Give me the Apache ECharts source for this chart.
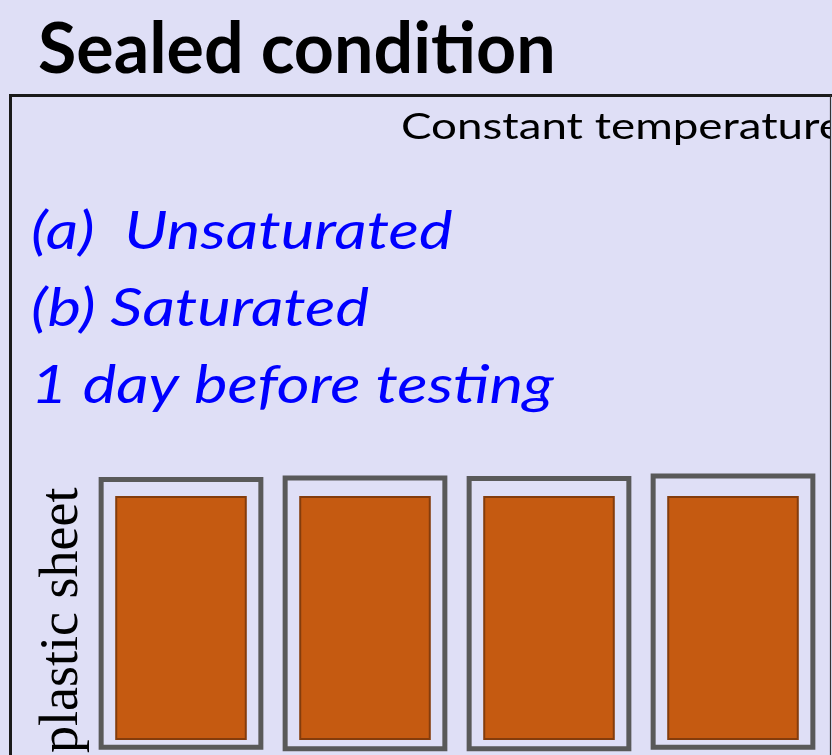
<!DOCTYPE html>
<html>
<head>
<meta charset="utf-8">
<title>Sealed condition</title>
<script src="https://cdn.jsdelivr.net/npm/echarts@6/dist/echarts.min.js"></script>
<style>
  html, body { margin: 0; padding: 0; background: #dfdff6; }
  #chart { width: 832px; height: 755px; }
</style>
</head>
<body>
<div id="chart"></div>
<script>
// specimens standing in a row, wrapped in plastic sheet
const specimens = ["S1", "S2", "S3", "S4"];
const specimenHeight = [100, 100, 100, 100];
// plastic sheet outline (bottom / top, same units as the specimen height)
const sheetBottom = [-3, -3.6, -3.6, -3];
const sheetTop = [106.8, 107.4, 107.2, 108.2];

const titleText = "Sealed condition";
const cornerText = "Constant temperature";
const noteLines = ["(a)  Unsaturated", "(b) Saturated", "1 day before testing"];
const sheetLabel = "plastic sheet";

const bg = "#dfdff6";
const chart = echarts.init(document.getElementById("chart"), null, { renderer: "canvas" });

const sheetData = specimens.map((s, i) => [i, sheetBottom[i], sheetTop[i]]);

const option = {
  backgroundColor: bg,
  animation: false,
  grid: { left: 89, right: 7, top: 459.4, bottom: 2.8 },
  xAxis: {
    type: "category",
    data: specimens,
    show: false,
  },
  yAxis: {
    type: "value",
    min: -5,
    max: 115,
    show: false,
  },
  graphic: [
    {
      type: "text",
      left: 38,
      top: 15,
      style: {
        text: titleText,
        fill: "#000",
        font: "bold 70px Lato",
      },
    },
    {
      type: "text",
      x: 401,
      y: 109,
      scaleX: 1.27,
      z: 1,
      style: {
        text: cornerText,
        fill: "#000",
        font: "36px Lato",
      },
    },
    {
      // hides the part of the text that runs past the frame
      type: "rect",
      z: 2,
      shape: { x: 830, y: 96, width: 10, height: 60 },
      style: { fill: bg },
    },
    {
      type: "polyline",
      z: 3,
      shape: { points: [[10.5, 755], [10.5, 95.5], [832, 95.5]] },
      style: { stroke: "#1a1a1a", lineWidth: 3, fill: null },
    },
    {
      type: "line",
      z: 3,
      shape: { x1: 830.5, y1: 95, x2: 830.5, y2: 755 },
      style: { stroke: "#333", lineWidth: 1.2 },
    },
  ]
    .concat(
      noteLines.map((t, i) => ({
        type: "text",
        x: 31,
        y: 206 + i * 77,
        scaleX: 1.22,
        style: {
          text: t,
          fill: "#0000ff",
          font: "italic 52px Lato",
        },
      }))
    )
    .concat([
      {
        type: "text",
        x: 90,
        y: 753,
        rotation: Math.PI / 2,
        style: {
          text: sheetLabel,
          fill: "#000",
          font: "54px 'Liberation Serif'",
          textVerticalAlign: "bottom",
        },
      },
    ]),
  series: [
    {
      name: "plastic sheet",
      type: "custom",
      data: sheetData,
      z: 1,
      renderItem: function (params, api) {
        const idx = api.value(0);
        const top = api.coord([idx, api.value(2)]);
        const bottom = api.coord([idx, api.value(1)]);
        const w = api.size([1, 0])[0] * 0.868;
        return {
          type: "rect",
          shape: { x: top[0] - w / 2, y: top[1], width: w, height: bottom[1] - top[1] },
          style: { fill: "none", stroke: "#595959", lineWidth: 5 },
        };
      },
    },
    {
      name: "specimen",
      type: "bar",
      data: specimenHeight,
      barWidth: "71.5%",
      z: 2,
      itemStyle: {
        color: "#c55a11",
        borderColor: "#843c0c",
        borderWidth: 2,
      },
    },
  ],
};

chart.setOption(option);
</script>
</body>
</html>
